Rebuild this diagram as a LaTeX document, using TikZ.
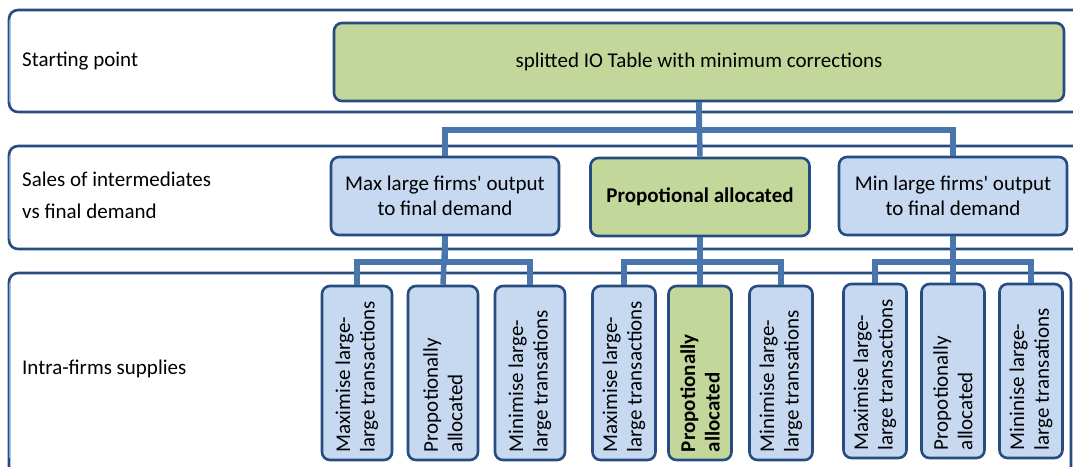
\documentclass[tikz,border=0pt]{standalone}
\usepackage{fontspec}
\setmainfont{Carlito}[Ligatures=TeXOff]
\usepackage{graphicx}
\definecolor{navy}{RGB}{38,76,130}
\definecolor{edgelight}{RGB}{120,165,220}
\definecolor{conncol}{RGB}{74,118,174}
\definecolor{bluefill}{RGB}{198,217,241}
\definecolor{greenfill}{RGB}{196,215,155}
\tikzset{
  band/.style={draw=navy, line width=2.6pt, rounded corners=9pt, fill=white},
  bandedge/.style={draw=edgelight, line width=1.4pt},
  lab/.style={anchor=west, align=left, font=\fontsize{21}{25}\selectfont, inner sep=0pt},
  box/.style={draw=navy, line width=2.6pt, rounded corners=8pt, align=center,
    font=\fontsize{21}{24.5}\selectfont, inner sep=0pt},
  bluebox/.style={box, fill=bluefill},
  greenbox/.style={box, fill=greenfill},
  conn/.style={draw=conncol, line width=5.5pt},
}
\newcommand{\vtext}[1]{\rotatebox{90}{\parbox{158pt}{\raggedright\fontsize{21}{24.5}\selectfont #1}}}
\begin{document}
\begin{tikzpicture}[x=1pt,y=-1pt]
\useasboundingbox (0,0) rectangle (1073,466);
% bands
\draw[band] (9,10) rectangle (1095,112);
\draw[band] (9,146) rectangle (1095,249);
\draw[band] (9,273) rectangle (1071,490);
\draw[bandedge] (9.6,20) -- (9.6,102);
\draw[bandedge] (9.6,156) -- (9.6,239);
\draw[bandedge] (9.6,283) -- (9.6,458);
\node[lab] (l1) at (22,61) {Starting point};
\node[lab] (l2) at (22,195) {Sales of intermediates\\[7pt]vs final demand};
\node[lab] (l3) at (22,369) {Intra-firms supplies};
% level 1
\node[greenbox, minimum width=730pt, minimum height=78pt] (top) at (699,62) {splitted IO Table with minimum corrections};
% level 2
\node[bluebox, minimum width=228pt, minimum height=78pt] (m1) at (445,196) {Max large firms' output\\to final demand};
\node[greenbox, minimum width=219pt, minimum height=78pt, font=\fontsize{21}{24.5}\selectfont\bfseries] (m2) at (700,197) {Propotional allocated};
\node[bluebox, minimum width=228pt, minimum height=78pt] (m3) at (953,196) {Min large firms' output\\to final demand};
% level 3
\node[bluebox, minimum width=70pt, minimum height=174pt] (a1) at (357,373) {\vtext{Maximise large-\\large transactions}};
\node[bluebox, minimum width=70pt, minimum height=174pt] (a2) at (443,373) {\vtext{Propotionally\\allocated}};
\node[bluebox, minimum width=70pt, minimum height=174pt] (a3) at (530,373) {\vtext{Minimise large-\\large transations}};
\node[bluebox, minimum width=63pt, minimum height=174pt] (b1) at (624,373) {\vtext{Maximise large-\\large transactions}};
\node[greenbox, minimum width=63pt, minimum height=174pt] (b2) at (700,373) {\vtext{\bfseries Propotionally\\allocated}};
\node[bluebox, minimum width=63pt, minimum height=174pt] (b3) at (781,373) {\vtext{Minimise large-\\large transations}};
\node[bluebox, minimum width=63pt, minimum height=174pt] (c1) at (875,371) {\vtext{Maximise  large-\\large transactions}};
\node[bluebox, minimum width=63pt, minimum height=174pt] (c2) at (953,371) {\vtext{Propotionally\\allocated}};
\node[bluebox, minimum width=63pt, minimum height=174pt] (c3) at (1031,371) {\vtext{Mininise large-\\large transations}};
% connectors
\coordinate (bar1) at (0,130);
\coordinate (bar2) at (0,262);
\draw[conn] (top.south) -- (top.south |- bar1) -| (m1.north);
\draw[conn] (top.south) -- (m2.north);
\draw[conn] (top.south) -- (top.south |- bar1) -| (m3.north);
\foreach \p/\c in {m1/a, m2/b, m3/c}{
  \draw[conn] (\p.south) -- (\p.south |- bar2) -| (\c1.north);
  \draw[conn] (\p.south) -- (\c2.north);
  \draw[conn] (\p.south) -- (\p.south |- bar2) -| (\c3.north);
}
\end{tikzpicture}
\end{document}
